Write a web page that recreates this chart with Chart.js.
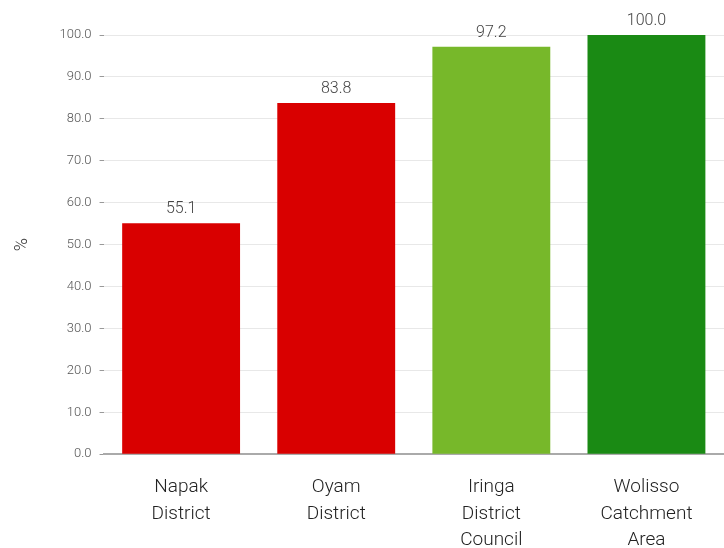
<!DOCTYPE html>
<html>
<head>
<meta charset="utf-8">
<script src="https://cdn.jsdelivr.net/npm/chart.js@4.4.0/dist/chart.umd.min.js"></script>
<style>
  html, body { margin: 0; padding: 0; background: #fff; }
  #wrap { width: 724px; height: 548px; }
</style>
</head>
<body>
<div id="wrap"><canvas id="myChart"></canvas></div>
<script>
var categories = [['Napak', 'District'], ['Oyam', 'District'], ['Iringa', 'District', 'Council'], ['Wolisso', 'Catchment', 'Area']];
var values = [55.1, 83.8, 97.2, 100.0];
var barColors = ['#d90000', '#d90000', '#77b82a', '#1a8a14'];

// draws the value over each bar
var valueLabels = {
    id: 'valueLabels',
    afterDatasetsDraw: function(chart) {
        var ctx = chart.ctx;
        var meta = chart.getDatasetMeta(0);
        ctx.save();
        ctx.font = '300 16px Roboto';
        ctx.fillStyle = '#444';
        ctx.textAlign = 'center';
        ctx.textBaseline = 'bottom';
        meta.data.forEach(function(bar, i) {
            ctx.fillText(values[i].toFixed(1), bar.x, bar.y - 6);
        });
        ctx.restore();
    }
};

var myChart = document.getElementById('myChart').getContext('2d');

var test = new Chart(myChart, {
    type: 'bar',
    data: {
        labels: categories,
        datasets: [
            {
                data: values,
                backgroundColor: barColors,
                categoryPercentage: 0.76,
                barPercentage: 1
            }
        ]
    },
    options: {
        responsive: true,
        maintainAspectRatio: false,
        animation: false,
        layout: {
            padding: { top: 35, right: 0, left: 8, bottom: -18 }
        },
        plugins: {
            legend: { display: false },
            tooltip: { enabled: false }
        },
        scales: {
            x: {
                grid: { display: false },
                border: { color: '#aaa', width: 2 },
                ticks: {
                    color: '#222',
                    padding: 12,
                    maxRotation: 0,
                    font: { family: 'Roboto', size: 19, weight: '300', lineHeight: 1.4 }
                }
            },
            y: {
                min: 0,
                max: 100,
                border: { display: false },
                grid: { color: '#e8e8e8', tickColor: '#999', tickLength: 4 },
                ticks: {
                    stepSize: 10,
                    color: '#555',
                    padding: 8,
                    font: { family: 'Roboto', size: 13, weight: '300' },
                    callback: function(v) { return v.toFixed(1); }
                },
                title: {
                    display: true,
                    text: '%',
                    color: '#333',
                    font: { family: 'Roboto', size: 18, weight: '300' },
                    padding: { bottom: 18 }
                }
            }
        }
    },
    plugins: [valueLabels]
});
</script>
</body>
</html>
